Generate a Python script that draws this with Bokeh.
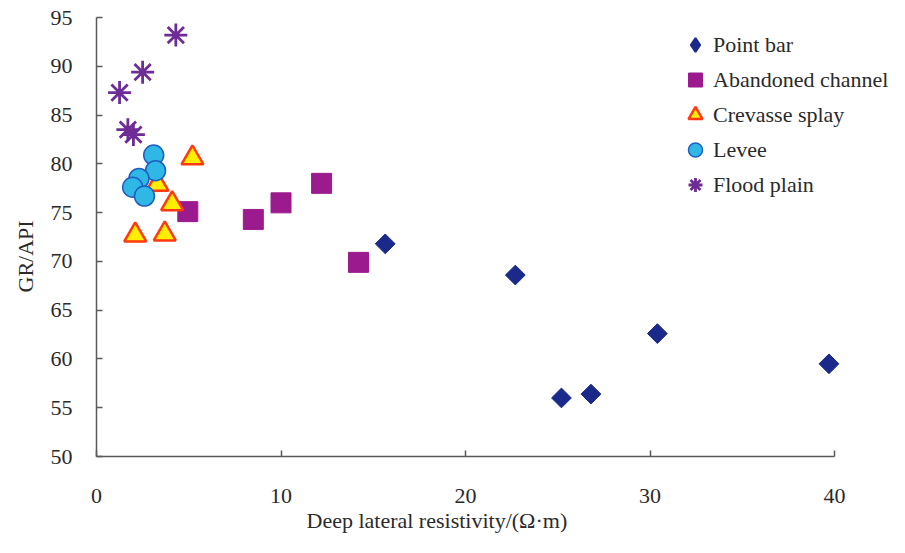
import numpy as np
from bokeh.plotting import figure
from bokeh.models import Range1d, FixedTicker, Legend, LegendItem, Title
from bokeh.embed import file_html
from bokeh.resources import INLINE

# ---- data ----
point_bar_x = [15.65, 22.7, 30.4, 39.7, 25.2, 26.8]
point_bar_y = [71.8, 68.6, 62.6, 59.5, 56.0, 56.4]

abandoned_x = [4.95, 8.5, 10.0, 12.2, 14.2]
abandoned_y = [75.1, 74.3, 76.0, 78.0, 69.9]

crevasse_x = [5.2, 3.3, 4.1, 2.1, 3.7]
crevasse_y = [80.6, 77.9, 75.9, 72.7, 72.8]

levee_x = [3.1, 3.2, 2.3, 1.96, 2.6]
levee_y = [80.9, 79.3, 78.5, 77.6, 76.7]

flood_x = [4.3, 2.5, 1.25, 1.7, 2.0]
flood_y = [93.2, 89.4, 87.3, 83.5, 83.0]

x_ticks = [0, 10, 20, 30, 40]
y_ticks = [50, 55, 60, 65, 70, 75, 80, 85, 90, 95]

FONT = "Liberation Serif"
TXT = "#2a2a2a"
FS = "22px"

W, H = 889, 537
# frame: left 96 .. right 889 (x axis itself only spans 0..40, legend sits inside the frame)
x_end = 40 * (W - 96) / (834 - 96)

p = figure(width=W, height=H, output_backend="svg", toolbar_location=None,
           x_range=Range1d(0, x_end), y_range=Range1d(50, 95),
           min_border_left=96, min_border_right=0, min_border_top=17, min_border_bottom=81)
p.outline_line_color = None
p.xgrid.grid_line_color = None
p.ygrid.grid_line_color = None

for ax, ticks in ((p.xaxis, x_ticks), (p.yaxis, y_ticks)):
    ax.ticker = FixedTicker(ticks=ticks)
    ax.minor_tick_line_color = None
    ax.major_tick_in = 6
    ax.major_tick_out = 0
    ax.axis_line_color = "#5a5a5a"
    ax.axis_line_width = 1.5
    ax.major_tick_line_color = "#5a5a5a"
    ax.major_tick_line_width = 1.5
    ax.major_label_text_font = FONT
    ax.major_label_text_font_size = FS
    ax.major_label_text_color = TXT
p.xaxis.bounds = (0, 40)
p.xaxis.major_label_standoff = 32
p.yaxis.major_label_standoff = 24

r1 = p.scatter(point_bar_x, point_bar_y, marker="square", size=14, angle=np.pi / 4,
               fill_color="#1B2A8A", line_color="#1B2A8A")
r2 = p.scatter(abandoned_x, abandoned_y, marker="square", size=20,
               fill_color="#9B1B8E", line_color="#9B1B8E")
r3 = p.scatter(crevasse_x, crevasse_y, marker="triangle", size=22,
               fill_color="#FFEE00", line_color="#FF3A10", line_width=2.5)
r4 = p.scatter(levee_x, levee_y, marker="circle", size=20,
               fill_color="#2FB8E6", line_color="#1F5FC0", line_width=1.5)
r5 = p.scatter(flood_x, flood_y, marker="asterisk", size=23, angle=np.pi / 2,
               line_color="#6E2C96", line_width=2.8)
# legend swatch for the point-bar diamonds (legend swatches ignore marker angle); not drawn in the plot
r1_key = p.scatter(x=[np.nan], y=[np.nan], marker="diamond", fill_color="#1B2A8A",
                   line_color="#1B2A8A", line_width=2)

legend = Legend(items=[
    LegendItem(label="Point bar", renderers=[r1_key]),
    LegendItem(label="Abandoned channel", renderers=[r2]),
    LegendItem(label="Crevasse splay", renderers=[r3]),
    LegendItem(label="Levee", renderers=[r4]),
    LegendItem(label="Flood plain", renderers=[r5]),
], location=(581, 254), glyph_width=36, glyph_height=35, label_height=35,
    spacing=0, padding=0, margin=0, label_standoff=0,
    border_line_color=None, background_fill_alpha=0,
    label_text_font=FONT, label_text_font_size=FS, label_text_color=TXT)
p.add_layout(legend)

p.add_layout(Title(text="Deep lateral resistivity/(Ω·m)", align="left", offset=210,
                   standoff=0, text_font=FONT, text_font_size=FS,
                   text_font_style="normal", text_color=TXT), "below")
p.add_layout(Title(text="GR/API", align="left", offset=164, standoff=20,
                   text_font=FONT, text_font_size=FS,
                   text_font_style="normal", text_color=TXT), "left")

open("out.html", "w").write(file_html(p, INLINE))
